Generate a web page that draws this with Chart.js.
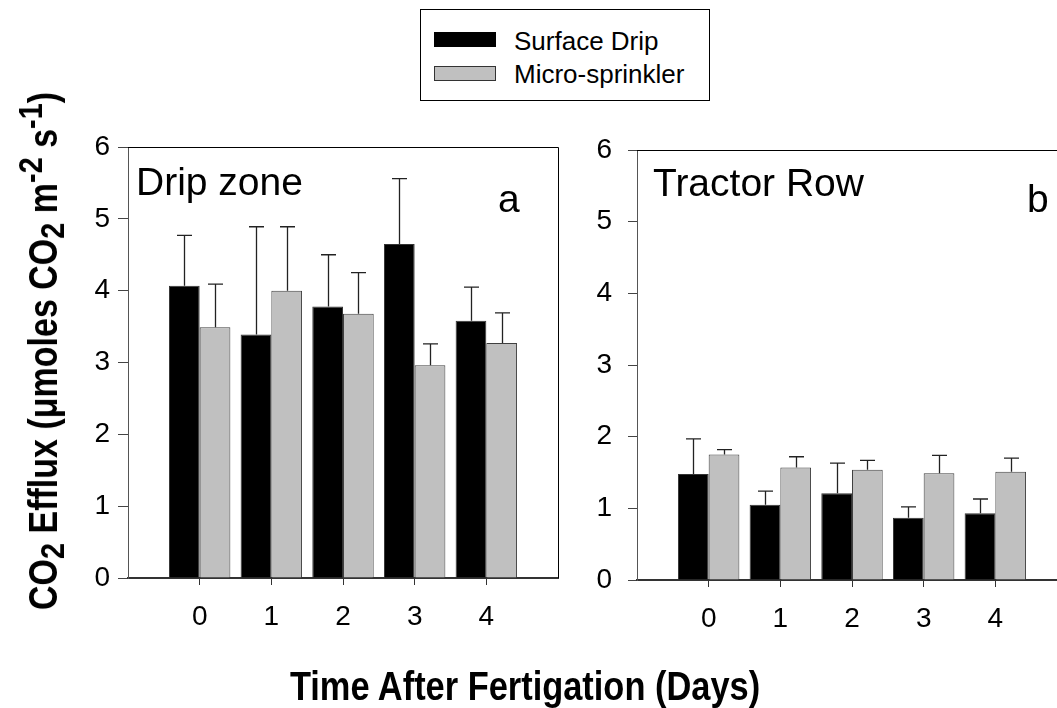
<!DOCTYPE html>
<html>
<head>
<meta charset="utf-8">
<script src="https://cdn.jsdelivr.net/npm/chart.js@4/dist/chart.umd.min.js"></script>
<style>
  html, body { margin: 0; padding: 0; background: #fff; overflow: hidden; }
  body { width: 1057px; height: 708px; position: relative; font-family: "Liberation Sans", Arial, sans-serif; color: #000; }
  canvas { position: absolute; top: 0; }
  #chart-a { left: 0; }
  #chart-b { left: 520px; }
  .legend { position: absolute; left: 420px; top: 9px; width: 288px; height: 90px; border: 1px solid #000; background: #fff; }
  .legend .sw { position: absolute; left: 13px; width: 62px; box-sizing: border-box; }
  .legend .txt { position: absolute; left: 93px; font-size: 26px; line-height: 26px; white-space: nowrap; }
  .ytitle { position: absolute; left: 43px; top: 351px; font-size: 40px; font-weight: bold; line-height: 1; white-space: nowrap;
            transform: translate(-50%, -50%) rotate(-90deg) scaleX(0.85); }
  .ytitle .sub { position: relative; top: 0.2em; font-size: 0.85em; }
  .ytitle .sup { position: relative; top: -0.45em; font-size: 0.85em; }
  .xtitle { position: absolute; left: 525px; top: 666px; font-size: 40px; font-weight: bold; line-height: 1; white-space: nowrap;
            transform: translateX(-50%) scaleX(0.86); }
</style>
</head>
<body>
<canvas id="chart-a" width="600" height="708"></canvas>
<canvas id="chart-b" width="600" height="708"></canvas>

<div class="legend">
  <div class="sw" style="top:22px;height:15px;background:#000;"></div>
  <div class="txt" style="top:18px;">Surface Drip</div>
  <div class="sw" style="top:56px;height:15px;background:#c0c0c0;border:1px solid #333;"></div>
  <div class="txt" style="top:51px;">Micro-sprinkler</div>
</div>
<div class="ytitle">CO<span class="sub">2</span> Efflux (&mu;moles CO<span class="sub">2</span> m<span class="sup">-2</span> s<span class="sup">-1</span>)</div>
<div class="xtitle">Time After Fertigation (Days)</div>

<script>
// データ --- 日数と各処理の平均値・誤差
const days = [0, 1, 2, 3, 4];
const yTicks = [0, 1, 2, 3, 4, 5, 6];

const dripZoneSurface = [4.07, 3.39, 3.78, 4.65, 3.58];
const dripZoneSurfaceErr = [0.70, 1.50, 0.72, 0.91, 0.47];
const dripZoneMicro = [3.49, 4.00, 3.68, 2.96, 3.27];
const dripZoneMicroErr = [0.60, 0.89, 0.57, 0.30, 0.42];

const tractorSurface = [1.48, 1.05, 1.21, 0.87, 0.93];
const tractorSurfaceErr = [0.49, 0.19, 0.42, 0.15, 0.20];
const tractorMicro = [1.75, 1.57, 1.54, 1.49, 1.51];
const tractorMicroErr = [0.07, 0.15, 0.13, 0.25, 0.19];

const FONT = "'Liberation Sans', Arial, sans-serif";
Chart.defaults.font.family = FONT;
Chart.defaults.color = "#000";

// 誤差棒(上側のみ)を描くプラグイン
const errorBars = {
  id: "errorBars",
  afterDatasetsDraw(chart) {
    const { ctx } = chart;
    const yScale = chart.scales.y;
    ctx.save();
    ctx.strokeStyle = "#222";
    ctx.lineWidth = 1.3;
    chart.data.datasets.forEach((ds, di) => {
      const meta = chart.getDatasetMeta(di);
      meta.data.forEach((bar, i) => {
        const top = yScale.getPixelForValue(ds.data[i].y + ds.errors[i]);
        const x = Math.round(bar.x) + 0.5;
        ctx.beginPath();
        ctx.moveTo(x, bar.y);
        ctx.lineTo(x, top);
        ctx.moveTo(x - 7.5, top);
        ctx.lineTo(x + 7.5, top);
        ctx.stroke();
      });
    });
    ctx.restore();
  },
};

// 枠線(上・右)とパネル内の文字
const panelFrame = {
  id: "panelFrame",
  afterDraw(chart, args, opts) {
    const { ctx, chartArea: a } = chart;
    ctx.save();
    ctx.strokeStyle = "#000";
    ctx.lineWidth = 1;
    ctx.beginPath();
    ctx.moveTo(a.left, a.top + 0.5);
    ctx.lineTo(a.right + 0.5, a.top + 0.5);
    ctx.lineTo(a.right + 0.5, a.bottom);
    ctx.stroke();
    ctx.fillStyle = "#000";
    ctx.textBaseline = "alphabetic";
    ctx.font = "39px " + FONT;
    ctx.fillText(opts.title, a.left + opts.titleX, a.top + opts.titleY);
    ctx.fillText(opts.letter, a.left + opts.letterX, a.top + opts.letterY);
    ctx.restore();
  },
};

function toPoints(values) {
  return values.map((v, i) => ({ x: days[i], y: v }));
}

// パネル1枚分のチャートを作る関数
function makePanel(canvas, surface, surfaceErr, micro, microErr, layout, frame) {
  return new Chart(canvas, {
    type: "bar",
    data: {
      datasets: [
        {
          label: "Surface Drip",
          data: toPoints(surface),
          errors: surfaceErr,
          backgroundColor: "#000",
          borderColor: "#333",
          borderWidth: 1,
        },
        {
          label: "Micro-sprinkler",
          data: toPoints(micro),
          errors: microErr,
          backgroundColor: "#c0c0c0",
          borderColor: "#404040",
          borderWidth: 1,
        },
      ],
    },
    options: {
      responsive: false,
      animation: false,
      categoryPercentage: 0.857,
      barPercentage: 1.0,
      layout: { padding: layout.padding },
      scales: {
        x: {
          type: "linear",
          min: -1,
          max: 5,
          offset: false,
          afterBuildTicks: (axis) => { axis.ticks = days.map((v) => ({ value: v })); },
          afterFit: (axis) => { axis.height = 60; },
          grid: { offset: false, drawOnChartArea: false, drawTicks: true, tickLength: 7, tickColor: "#333" },
          border: { color: "#333", width: 2 },
          ticks: { font: { size: 28 }, padding: 15, color: "#000" },
        },
        y: {
          min: 0,
          max: 6,
          afterBuildTicks: (axis) => { axis.ticks = yTicks.map((v) => ({ value: v })); },
          afterFit: (axis) => { axis.width = layout.yWidth; },
          grid: { drawOnChartArea: false, drawTicks: true, tickLength: layout.tickLen, tickColor: "#444" },
          border: { color: "#555", width: 1 },
          ticks: { font: { size: 28 }, padding: layout.labelPad, color: "#000" },
        },
      },
      plugins: {
        legend: { display: false },
        tooltip: { enabled: false },
        panelFrame: frame,
      },
    },
    plugins: [errorBars, panelFrame],
  });
}

window.addEventListener("DOMContentLoaded", () => {
  makePanel(
    document.querySelector("#chart-a"),
    dripZoneSurface, dripZoneSurfaceErr, dripZoneMicro, dripZoneMicroErr,
    { padding: { left: 0, top: 147, right: 42, bottom: 70 }, yWidth: 128, tickLen: 10, labelPad: 8 },
    { title: "Drip zone", titleX: 8, titleY: 48, letter: "a", letterX: 370, letterY: 65 }
  );
  makePanel(
    document.querySelector("#chart-b"),
    tractorSurface, tractorSurfaceErr, tractorMicro, tractorMicroErr,
    { padding: { left: 0, top: 150, right: 53, bottom: 68 }, yWidth: 117, tickLen: 9, labelPad: 16 },
    { title: "Tractor Row", titleX: 16, titleY: 46, letter: "b", letterX: 390, letterY: 62 }
  );
});
</script>
</body>
</html>
